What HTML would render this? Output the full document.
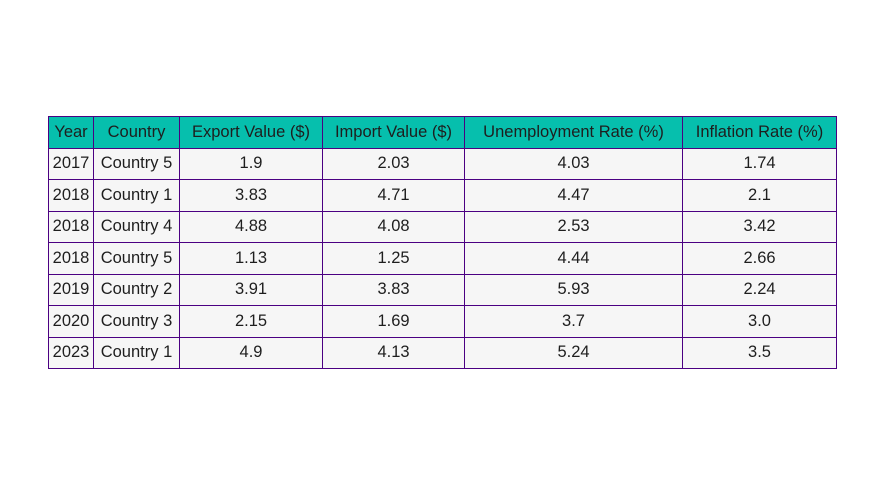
<!DOCTYPE html>
<html><head><meta charset="utf-8"><style>
html,body{margin:0;padding:0;background:#fff;width:884px;height:484px;overflow:hidden}
table{position:absolute;left:48px;top:116px;width:788px;table-layout:fixed;border-collapse:collapse;font-family:"Liberation Sans",sans-serif;font-size:16.5px;color:#1e1e1e}
tr{height:31.5px}
td,th{border:1.3px solid #4b0082;padding:0;text-align:center;font-weight:normal;white-space:nowrap;overflow:hidden}
th{background:#06bfad}
td{background:#f6f6f6}
</style></head><body>
<table>
<colgroup><col style="width:45px"><col style="width:86px"><col style="width:143px"><col style="width:142px"><col style="width:218px"><col style="width:154px"></colgroup>
<thead><tr>
<th>Year</th>
<th>Country</th>
<th>Export Value ($)</th>
<th>Import Value ($)</th>
<th>Unemployment Rate (%)</th>
<th>Inflation Rate (%)</th>
</tr></thead>
<tbody>
<tr><td>2017</td><td>Country 5</td><td>1.9</td><td>2.03</td><td>4.03</td><td>1.74</td></tr>
<tr><td>2018</td><td>Country 1</td><td>3.83</td><td>4.71</td><td>4.47</td><td>2.1</td></tr>
<tr><td>2018</td><td>Country 4</td><td>4.88</td><td>4.08</td><td>2.53</td><td>3.42</td></tr>
<tr><td>2018</td><td>Country 5</td><td>1.13</td><td>1.25</td><td>4.44</td><td>2.66</td></tr>
<tr><td>2019</td><td>Country 2</td><td>3.91</td><td>3.83</td><td>5.93</td><td>2.24</td></tr>
<tr><td>2020</td><td>Country 3</td><td>2.15</td><td>1.69</td><td>3.7</td><td>3.0</td></tr>
<tr><td>2023</td><td>Country 1</td><td>4.9</td><td>4.13</td><td>5.24</td><td>3.5</td></tr>
</tbody></table>
</body></html>
